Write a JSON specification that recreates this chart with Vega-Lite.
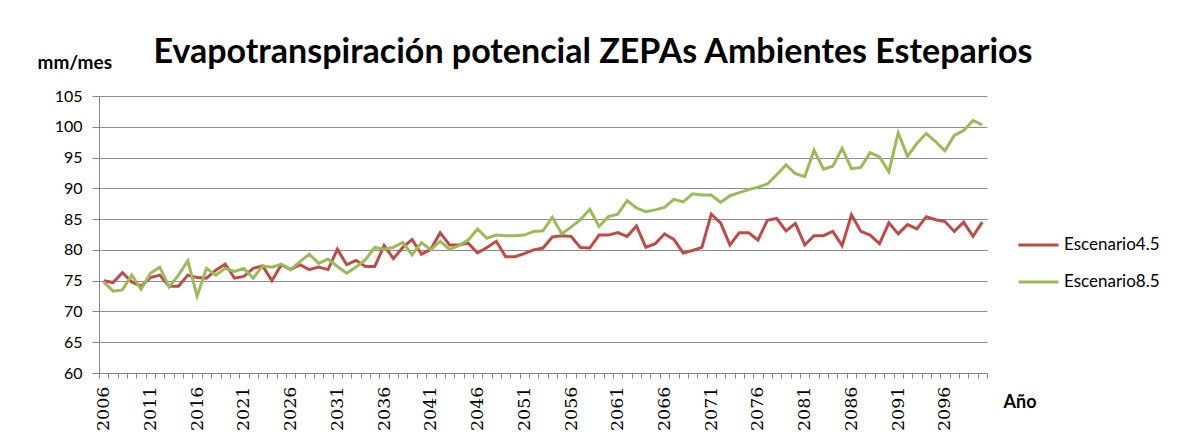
{
  "$schema": "https://vega.github.io/schema/vega-lite/v6.json",
  "width": 888,
  "height": 277,
  "autosize": "none",
  "padding": {"left": 99, "top": 96, "right": 191, "bottom": 74},
  "background": "white",
  "config": {"view": {"stroke": null}, "font": "Lato"},
  "title": {
    "text": "Evapotranspiración potencial ZEPAs Ambientes Esteparios",
    "font": "Lato",
    "fontSize": 34,
    "fontWeight": "bold",
    "color": "#000000",
    "anchor": "middle",
    "frame": "group",
    "dx": 50,
    "dy": 17,
    "offset": 0
  },
  "data": {
    "values": [
      {"year": 2006, "series": "Escenario4.5", "value": 75.0},
      {"year": 2007, "series": "Escenario4.5", "value": 74.7},
      {"year": 2008, "series": "Escenario4.5", "value": 76.3},
      {"year": 2009, "series": "Escenario4.5", "value": 74.8},
      {"year": 2010, "series": "Escenario4.5", "value": 74.1},
      {"year": 2011, "series": "Escenario4.5", "value": 75.5},
      {"year": 2012, "series": "Escenario4.5", "value": 75.9},
      {"year": 2013, "series": "Escenario4.5", "value": 74.1},
      {"year": 2014, "series": "Escenario4.5", "value": 74.1},
      {"year": 2015, "series": "Escenario4.5", "value": 75.9},
      {"year": 2016, "series": "Escenario4.5", "value": 75.5},
      {"year": 2017, "series": "Escenario4.5", "value": 75.4},
      {"year": 2018, "series": "Escenario4.5", "value": 76.7},
      {"year": 2019, "series": "Escenario4.5", "value": 77.7},
      {"year": 2020, "series": "Escenario4.5", "value": 75.4},
      {"year": 2021, "series": "Escenario4.5", "value": 75.7},
      {"year": 2022, "series": "Escenario4.5", "value": 77.0},
      {"year": 2023, "series": "Escenario4.5", "value": 77.4},
      {"year": 2024, "series": "Escenario4.5", "value": 75.0},
      {"year": 2025, "series": "Escenario4.5", "value": 77.6},
      {"year": 2026, "series": "Escenario4.5", "value": 76.8},
      {"year": 2027, "series": "Escenario4.5", "value": 77.6},
      {"year": 2028, "series": "Escenario4.5", "value": 76.8},
      {"year": 2029, "series": "Escenario4.5", "value": 77.2},
      {"year": 2030, "series": "Escenario4.5", "value": 76.8},
      {"year": 2031, "series": "Escenario4.5", "value": 80.1},
      {"year": 2032, "series": "Escenario4.5", "value": 77.6},
      {"year": 2033, "series": "Escenario4.5", "value": 78.3},
      {"year": 2034, "series": "Escenario4.5", "value": 77.3},
      {"year": 2035, "series": "Escenario4.5", "value": 77.3},
      {"year": 2036, "series": "Escenario4.5", "value": 80.7},
      {"year": 2037, "series": "Escenario4.5", "value": 78.6},
      {"year": 2038, "series": "Escenario4.5", "value": 80.4},
      {"year": 2039, "series": "Escenario4.5", "value": 81.7},
      {"year": 2040, "series": "Escenario4.5", "value": 79.3},
      {"year": 2041, "series": "Escenario4.5", "value": 80.1},
      {"year": 2042, "series": "Escenario4.5", "value": 82.8},
      {"year": 2043, "series": "Escenario4.5", "value": 80.8},
      {"year": 2044, "series": "Escenario4.5", "value": 80.8},
      {"year": 2045, "series": "Escenario4.5", "value": 81.1},
      {"year": 2046, "series": "Escenario4.5", "value": 79.5},
      {"year": 2047, "series": "Escenario4.5", "value": 80.4},
      {"year": 2048, "series": "Escenario4.5", "value": 81.4},
      {"year": 2049, "series": "Escenario4.5", "value": 78.9},
      {"year": 2050, "series": "Escenario4.5", "value": 78.9},
      {"year": 2051, "series": "Escenario4.5", "value": 79.4},
      {"year": 2052, "series": "Escenario4.5", "value": 80.0},
      {"year": 2053, "series": "Escenario4.5", "value": 80.3},
      {"year": 2054, "series": "Escenario4.5", "value": 82.1},
      {"year": 2055, "series": "Escenario4.5", "value": 82.3},
      {"year": 2056, "series": "Escenario4.5", "value": 82.2},
      {"year": 2057, "series": "Escenario4.5", "value": 80.4},
      {"year": 2058, "series": "Escenario4.5", "value": 80.3},
      {"year": 2059, "series": "Escenario4.5", "value": 82.4},
      {"year": 2060, "series": "Escenario4.5", "value": 82.4},
      {"year": 2061, "series": "Escenario4.5", "value": 82.8},
      {"year": 2062, "series": "Escenario4.5", "value": 82.2},
      {"year": 2063, "series": "Escenario4.5", "value": 83.9},
      {"year": 2064, "series": "Escenario4.5", "value": 80.4},
      {"year": 2065, "series": "Escenario4.5", "value": 81.0},
      {"year": 2066, "series": "Escenario4.5", "value": 82.6},
      {"year": 2067, "series": "Escenario4.5", "value": 81.7},
      {"year": 2068, "series": "Escenario4.5", "value": 79.5},
      {"year": 2069, "series": "Escenario4.5", "value": 79.9},
      {"year": 2070, "series": "Escenario4.5", "value": 80.4},
      {"year": 2071, "series": "Escenario4.5", "value": 85.8},
      {"year": 2072, "series": "Escenario4.5", "value": 84.4},
      {"year": 2073, "series": "Escenario4.5", "value": 80.8},
      {"year": 2074, "series": "Escenario4.5", "value": 82.8},
      {"year": 2075, "series": "Escenario4.5", "value": 82.8},
      {"year": 2076, "series": "Escenario4.5", "value": 81.6},
      {"year": 2077, "series": "Escenario4.5", "value": 84.8},
      {"year": 2078, "series": "Escenario4.5", "value": 85.1},
      {"year": 2079, "series": "Escenario4.5", "value": 83.1},
      {"year": 2080, "series": "Escenario4.5", "value": 84.3},
      {"year": 2081, "series": "Escenario4.5", "value": 80.8},
      {"year": 2082, "series": "Escenario4.5", "value": 82.3},
      {"year": 2083, "series": "Escenario4.5", "value": 82.3},
      {"year": 2084, "series": "Escenario4.5", "value": 83.0},
      {"year": 2085, "series": "Escenario4.5", "value": 80.7},
      {"year": 2086, "series": "Escenario4.5", "value": 85.7},
      {"year": 2087, "series": "Escenario4.5", "value": 83.0},
      {"year": 2088, "series": "Escenario4.5", "value": 82.4},
      {"year": 2089, "series": "Escenario4.5", "value": 81.0},
      {"year": 2090, "series": "Escenario4.5", "value": 84.4},
      {"year": 2091, "series": "Escenario4.5", "value": 82.6},
      {"year": 2092, "series": "Escenario4.5", "value": 84.1},
      {"year": 2093, "series": "Escenario4.5", "value": 83.4},
      {"year": 2094, "series": "Escenario4.5", "value": 85.4},
      {"year": 2095, "series": "Escenario4.5", "value": 84.9},
      {"year": 2096, "series": "Escenario4.5", "value": 84.6},
      {"year": 2097, "series": "Escenario4.5", "value": 83.0},
      {"year": 2098, "series": "Escenario4.5", "value": 84.5},
      {"year": 2099, "series": "Escenario4.5", "value": 82.2},
      {"year": 2100, "series": "Escenario4.5", "value": 84.5},
      {"year": 2006, "series": "Escenario8.5", "value": 74.8},
      {"year": 2007, "series": "Escenario8.5", "value": 73.3},
      {"year": 2008, "series": "Escenario8.5", "value": 73.5},
      {"year": 2009, "series": "Escenario8.5", "value": 75.9},
      {"year": 2010, "series": "Escenario8.5", "value": 73.6},
      {"year": 2011, "series": "Escenario8.5", "value": 76.2},
      {"year": 2012, "series": "Escenario8.5", "value": 77.2},
      {"year": 2013, "series": "Escenario8.5", "value": 74.0},
      {"year": 2014, "series": "Escenario8.5", "value": 75.9},
      {"year": 2015, "series": "Escenario8.5", "value": 78.2},
      {"year": 2016, "series": "Escenario8.5", "value": 72.5},
      {"year": 2017, "series": "Escenario8.5", "value": 77.0},
      {"year": 2018, "series": "Escenario8.5", "value": 75.9},
      {"year": 2019, "series": "Escenario8.5", "value": 77.0},
      {"year": 2020, "series": "Escenario8.5", "value": 76.5},
      {"year": 2021, "series": "Escenario8.5", "value": 77.0},
      {"year": 2022, "series": "Escenario8.5", "value": 75.4},
      {"year": 2023, "series": "Escenario8.5", "value": 77.4},
      {"year": 2024, "series": "Escenario8.5", "value": 77.2},
      {"year": 2025, "series": "Escenario8.5", "value": 77.7},
      {"year": 2026, "series": "Escenario8.5", "value": 76.8},
      {"year": 2027, "series": "Escenario8.5", "value": 78.1},
      {"year": 2028, "series": "Escenario8.5", "value": 79.3},
      {"year": 2029, "series": "Escenario8.5", "value": 77.8},
      {"year": 2030, "series": "Escenario8.5", "value": 78.5},
      {"year": 2031, "series": "Escenario8.5", "value": 77.3},
      {"year": 2032, "series": "Escenario8.5", "value": 76.2},
      {"year": 2033, "series": "Escenario8.5", "value": 77.2},
      {"year": 2034, "series": "Escenario8.5", "value": 78.4},
      {"year": 2035, "series": "Escenario8.5", "value": 80.4},
      {"year": 2036, "series": "Escenario8.5", "value": 80.1},
      {"year": 2037, "series": "Escenario8.5", "value": 80.4},
      {"year": 2038, "series": "Escenario8.5", "value": 81.2},
      {"year": 2039, "series": "Escenario8.5", "value": 79.2},
      {"year": 2040, "series": "Escenario8.5", "value": 81.2},
      {"year": 2041, "series": "Escenario8.5", "value": 80.0},
      {"year": 2042, "series": "Escenario8.5", "value": 81.4},
      {"year": 2043, "series": "Escenario8.5", "value": 80.1},
      {"year": 2044, "series": "Escenario8.5", "value": 80.7},
      {"year": 2045, "series": "Escenario8.5", "value": 81.6},
      {"year": 2046, "series": "Escenario8.5", "value": 83.4},
      {"year": 2047, "series": "Escenario8.5", "value": 81.9},
      {"year": 2048, "series": "Escenario8.5", "value": 82.4},
      {"year": 2049, "series": "Escenario8.5", "value": 82.3},
      {"year": 2050, "series": "Escenario8.5", "value": 82.3},
      {"year": 2051, "series": "Escenario8.5", "value": 82.4},
      {"year": 2052, "series": "Escenario8.5", "value": 83.0},
      {"year": 2053, "series": "Escenario8.5", "value": 83.1},
      {"year": 2054, "series": "Escenario8.5", "value": 85.3},
      {"year": 2055, "series": "Escenario8.5", "value": 82.6},
      {"year": 2056, "series": "Escenario8.5", "value": 83.7},
      {"year": 2057, "series": "Escenario8.5", "value": 84.9},
      {"year": 2058, "series": "Escenario8.5", "value": 86.6},
      {"year": 2059, "series": "Escenario8.5", "value": 83.8},
      {"year": 2060, "series": "Escenario8.5", "value": 85.4},
      {"year": 2061, "series": "Escenario8.5", "value": 85.8},
      {"year": 2062, "series": "Escenario8.5", "value": 88.0},
      {"year": 2063, "series": "Escenario8.5", "value": 86.8},
      {"year": 2064, "series": "Escenario8.5", "value": 86.2},
      {"year": 2065, "series": "Escenario8.5", "value": 86.5},
      {"year": 2066, "series": "Escenario8.5", "value": 86.9},
      {"year": 2067, "series": "Escenario8.5", "value": 88.2},
      {"year": 2068, "series": "Escenario8.5", "value": 87.8},
      {"year": 2069, "series": "Escenario8.5", "value": 89.1},
      {"year": 2070, "series": "Escenario8.5", "value": 88.9},
      {"year": 2071, "series": "Escenario8.5", "value": 88.9},
      {"year": 2072, "series": "Escenario8.5", "value": 87.7},
      {"year": 2073, "series": "Escenario8.5", "value": 88.8},
      {"year": 2074, "series": "Escenario8.5", "value": 89.3},
      {"year": 2075, "series": "Escenario8.5", "value": 89.8},
      {"year": 2076, "series": "Escenario8.5", "value": 90.2},
      {"year": 2077, "series": "Escenario8.5", "value": 90.7},
      {"year": 2078, "series": "Escenario8.5", "value": 92.2},
      {"year": 2079, "series": "Escenario8.5", "value": 93.8},
      {"year": 2080, "series": "Escenario8.5", "value": 92.4},
      {"year": 2081, "series": "Escenario8.5", "value": 91.9},
      {"year": 2082, "series": "Escenario8.5", "value": 96.2},
      {"year": 2083, "series": "Escenario8.5", "value": 93.1},
      {"year": 2084, "series": "Escenario8.5", "value": 93.6},
      {"year": 2085, "series": "Escenario8.5", "value": 96.5},
      {"year": 2086, "series": "Escenario8.5", "value": 93.2},
      {"year": 2087, "series": "Escenario8.5", "value": 93.4},
      {"year": 2088, "series": "Escenario8.5", "value": 95.8},
      {"year": 2089, "series": "Escenario8.5", "value": 95.1},
      {"year": 2090, "series": "Escenario8.5", "value": 92.7},
      {"year": 2091, "series": "Escenario8.5", "value": 99.0},
      {"year": 2092, "series": "Escenario8.5", "value": 95.2},
      {"year": 2093, "series": "Escenario8.5", "value": 97.3},
      {"year": 2094, "series": "Escenario8.5", "value": 98.9},
      {"year": 2095, "series": "Escenario8.5", "value": 97.6},
      {"year": 2096, "series": "Escenario8.5", "value": 96.1},
      {"year": 2097, "series": "Escenario8.5", "value": 98.6},
      {"year": 2098, "series": "Escenario8.5", "value": 99.4},
      {"year": 2099, "series": "Escenario8.5", "value": 101.0},
      {"year": 2100, "series": "Escenario8.5", "value": 100.3}
    ]
  },
  "mark": {"type": "line", "strokeWidth": 3},
  "encoding": {
    "x": {
      "field": "year",
      "type": "quantitative",
      "scale": {"domain": [2005.5, 2100.5], "nice": false, "zero": false},
      "axis": {
        "values": [2005.5, 2006.5, 2007.5, 2008.5, 2009.5, 2010.5, 2011.5, 2012.5, 2013.5, 2014.5, 2015.5, 2016.5, 2017.5, 2018.5, 2019.5, 2020.5, 2021.5, 2022.5, 2023.5, 2024.5, 2025.5, 2026.5, 2027.5, 2028.5, 2029.5, 2030.5, 2031.5, 2032.5, 2033.5, 2034.5, 2035.5, 2036.5, 2037.5, 2038.5, 2039.5, 2040.5, 2041.5, 2042.5, 2043.5, 2044.5, 2045.5, 2046.5, 2047.5, 2048.5, 2049.5, 2050.5, 2051.5, 2052.5, 2053.5, 2054.5, 2055.5, 2056.5, 2057.5, 2058.5, 2059.5, 2060.5, 2061.5, 2062.5, 2063.5, 2064.5, 2065.5, 2066.5, 2067.5, 2068.5, 2069.5, 2070.5, 2071.5, 2072.5, 2073.5, 2074.5, 2075.5, 2076.5, 2077.5, 2078.5, 2079.5, 2080.5, 2081.5, 2082.5, 2083.5, 2084.5, 2085.5, 2086.5, 2087.5, 2088.5, 2089.5, 2090.5, 2091.5, 2092.5, 2093.5, 2094.5, 2095.5, 2096.5, 2097.5, 2098.5, 2099.5, 2100.5],
        "labelExpr": "(datum.value + 0.5) % 5 == 1 && datum.value < 2100 ? '' + (datum.value + 0.5) : ''",
        "labelOffset": 4.675,
        "labelAngle": 270,
        "labelAlign": "right",
        "labelBaseline": "middle",
        "labelFont": "DejaVu Serif",
        "labelFontSize": 17.5,
        "labelColor": "#000000",
        "labelPadding": 8,
        "labelOverlap": false,
        "labelBound": false,
        "labelFlush": false,
        "grid": false,
        "tickSize": 5,
        "tickColor": "#868686",
        "domainColor": "#868686",
        "title": "Año",
        "titleX": 904,
        "titleY": 29,
        "titleAlign": "left",
        "titleBaseline": "middle",
        "titleFont": "Lato",
        "titleFontSize": 18,
        "titleFontWeight": "bold",
        "titleColor": "#000000"
      }
    },
    "y": {
      "field": "value",
      "type": "quantitative",
      "scale": {"domain": [60, 105], "nice": false, "zero": false},
      "axis": {
        "values": [60, 65, 70, 75, 80, 85, 90, 95, 100, 105],
        "grid": true,
        "gridColor": "#8c8c8c",
        "gridWidth": 1,
        "tickSize": 7,
        "tickColor": "#868686",
        "domainColor": "#868686",
        "labelFont": "Lato",
        "labelFontSize": 16,
        "labelColor": "#000000",
        "labelPadding": 10,
        "title": "mm/mes",
        "titleAngle": 0,
        "titleX": -62,
        "titleY": -34,
        "titleAlign": "left",
        "titleBaseline": "middle",
        "titleFont": "Lato",
        "titleFontSize": 19,
        "titleFontWeight": "bold",
        "titleColor": "#000000"
      }
    },
    "color": {
      "field": "series",
      "type": "nominal",
      "scale": {"domain": ["Escenario4.5", "Escenario8.5"], "range": ["#BE4B48", "#9BBB59"]},
      "legend": {
        "orient": "none",
        "legendX": 918,
        "legendY": 141,
        "title": null,
        "padding": 0,
        "symbolType": "stroke",
        "symbolSize": 1600,
        "symbolStrokeWidth": 3,
        "clipHeight": 16,
        "rowPadding": 20,
        "labelFont": "Lato",
        "labelFontSize": 17,
        "labelColor": "#000000",
        "labelOffset": 4
      }
    }
  }
}
